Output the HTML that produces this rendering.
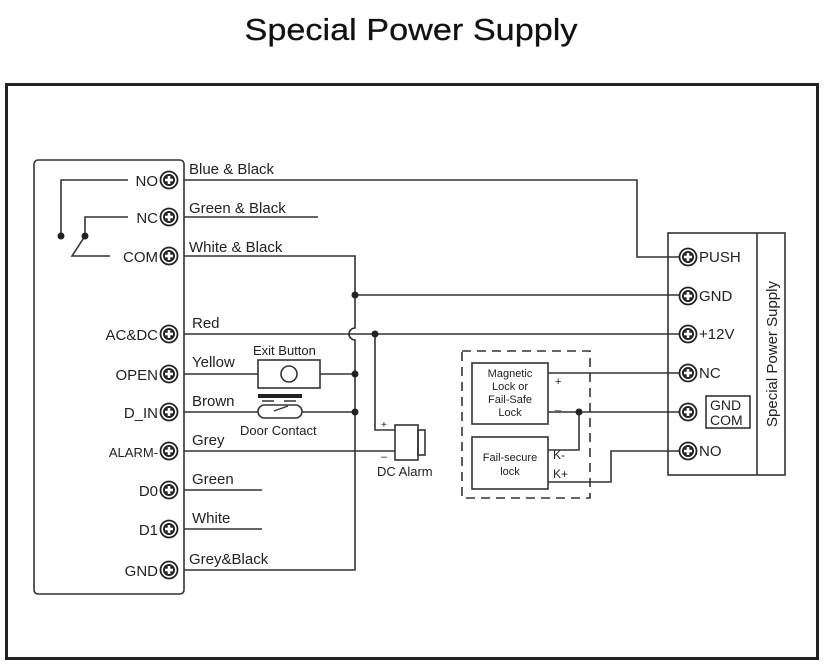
<!DOCTYPE html>
<html><head><meta charset="utf-8"><style>
html,body{margin:0;padding:0;background:#fff;}
svg{display:block;font-family:"Liberation Sans",Arial,sans-serif;}
</style></head><body>
<svg width="825" height="666" viewBox="0 0 825 666" xmlns="http://www.w3.org/2000/svg">
<defs>
<g id="t">
<circle r="8.5" fill="#fff" stroke="#222" stroke-width="1.8"/>
<circle r="6" fill="#222"/>
<rect x="-4" y="-1.3" width="8" height="2.6" fill="#fff"/>
<rect x="-1.3" y="-4" width="2.6" height="8" fill="#fff"/>
</g>
</defs>
<text x="411" y="40" font-size="31" text-anchor="middle" textLength="333" lengthAdjust="spacingAndGlyphs" fill="#111" stroke="#111" stroke-width="0.25">Special Power Supply</text>
<rect x="6.5" y="84.5" width="811" height="574" fill="none" stroke="#222" stroke-width="3"/>
<g fill="none" stroke="#333" stroke-width="1.6">
<rect x="34" y="160" width="150" height="434" rx="4"/>
<path d="M128 180 H61 V236"/>
<path d="M128 217 H85 V236"/>
<path d="M110 256 H72 L85 236"/>
<path d="M184 180 H637 V257 H680"/>
<path d="M184 217 H318"/>
<path d="M184 256 H355 V328 A6 6 0 0 0 355 340 V570 H184"/>
<path d="M355 295 H680"/>
<path d="M184 334 H680"/>
<path d="M375 334 V430 H395"/>
<path d="M184 451 H395"/>
<path d="M184 374 H258 M320 374 H355"/>
<path d="M184 412 H258 M302 412 H355"/>
<path d="M184 490 H262 M184 529 H262"/>
<rect x="258" y="360" width="62" height="28"/>
<circle cx="289" cy="374" r="8"/>
<rect x="258" y="405" width="44" height="13" rx="6.5"/>
<rect x="395" y="425" width="23" height="35"/>
<rect x="418" y="430" width="7" height="25"/>
<rect x="462" y="351" width="128" height="147" stroke-dasharray="9,6"/>
<rect x="472" y="363" width="76" height="61"/>
<rect x="472" y="437" width="76" height="52"/>
<path d="M548 373 H680"/>
<path d="M548 412 H680"/>
<path d="M579 412 V450 H548"/>
<path d="M548 482 H611 V451 H680"/>
<rect x="668" y="233" width="117" height="242"/>
<path d="M757 233 V475"/>
<rect x="706" y="396" width="44" height="32"/>
</g>
<rect x="258" y="394" width="44" height="4" fill="#222"/>
<path d="M262 401 H274 M284 401 H296 M274 411 L288 406" stroke="#333" stroke-width="1.4"/>
<g fill="#222">
<circle cx="61" cy="236" r="3.5"/><circle cx="85" cy="236" r="3.5"/>
<circle cx="355" cy="295" r="3.5"/><circle cx="375" cy="334" r="3.5"/>
<circle cx="355" cy="374" r="3.5"/><circle cx="355" cy="412" r="3.5"/>
<circle cx="579" cy="412" r="3.5"/>
</g>
<g>
<use href="#t" x="169" y="180"/><use href="#t" x="169" y="217"/><use href="#t" x="169" y="256"/>
<use href="#t" x="169" y="334"/><use href="#t" x="169" y="374"/><use href="#t" x="169" y="412"/>
<use href="#t" x="169" y="451"/><use href="#t" x="169" y="490"/><use href="#t" x="169" y="529"/>
<use href="#t" x="169" y="570"/>
<use href="#t" x="688" y="257"/><use href="#t" x="688" y="296"/><use href="#t" x="688" y="334"/>
<use href="#t" x="688" y="373"/><use href="#t" x="688" y="412"/><use href="#t" x="688" y="451"/>
</g>
<g font-size="15" fill="#222" text-anchor="end">
<text x="158" y="186">NO</text><text x="158" y="223">NC</text><text x="158" y="262">COM</text>
<text x="158" y="340">AC&amp;DC</text><text x="158" y="380">OPEN</text><text x="158" y="418">D_IN</text>
<text x="158" y="457" font-size="13">ALARM-</text><text x="158" y="496">D0</text><text x="158" y="535">D1</text>
<text x="158" y="576">GND</text>
</g>
<g font-size="15" fill="#222">
<text x="189" y="174">Blue &amp; Black</text>
<text x="189" y="213">Green &amp; Black</text>
<text x="189" y="252">White &amp; Black</text>
<text x="192" y="328">Red</text>
<text x="192" y="367">Yellow</text>
<text x="192" y="406">Brown</text>
<text x="192" y="445">Grey</text>
<text x="192" y="484">Green</text>
<text x="192" y="523">White</text>
<text x="189" y="564">Grey&amp;Black</text>
<text x="253" y="355" font-size="13">Exit Button</text>
<text x="240" y="435" font-size="13">Door Contact</text>
<text x="377" y="476" font-size="13">DC Alarm</text>
<text x="381" y="428" font-size="10">+</text>
<text x="381" y="460" font-size="11">–</text>
<text x="699" y="262">PUSH</text><text x="699" y="301">GND</text><text x="699" y="339">+12V</text>
<text x="699" y="378">NC</text><text x="699" y="456">NO</text>
<text x="710" y="410" font-size="14">GND</text><text x="710" y="425" font-size="14">COM</text>
<text x="777" y="354" font-size="15" text-anchor="middle" transform="rotate(-90 777 354)">Special Power Supply</text>
<g font-size="11" text-anchor="middle">
<text x="510" y="377">Magnetic</text><text x="510" y="390">Lock or</text>
<text x="510" y="403">Fail-Safe</text><text x="510" y="416">Lock</text>
<text x="510" y="461">Fail-secure</text><text x="510" y="475">lock</text>
</g>
<text x="555" y="385" font-size="11">+</text>
<text x="555" y="409" font-size="11">_</text>
<text x="553" y="459" font-size="12">K-</text>
<text x="553" y="478" font-size="12">K+</text>
</g>
</svg>
</body></html>
